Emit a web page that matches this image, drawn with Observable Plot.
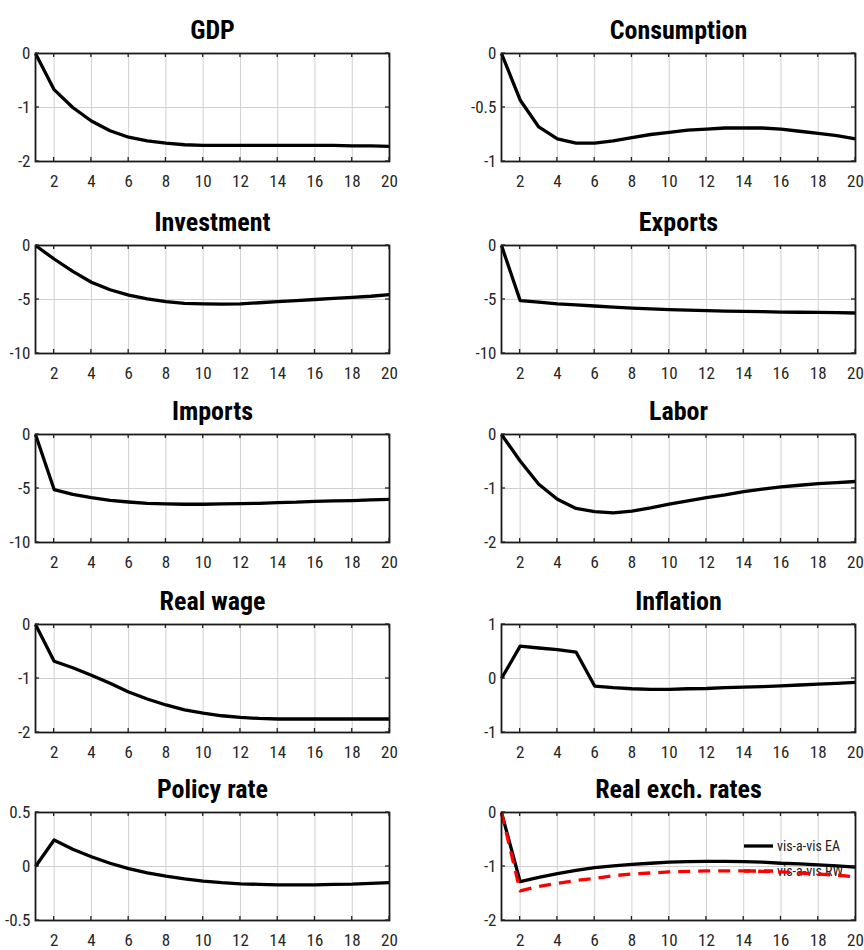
<!DOCTYPE html>
<html><head><meta charset="utf-8">
<script src="https://cdn.jsdelivr.net/npm/d3@7"></script>
<script src="https://cdn.jsdelivr.net/npm/@observablehq/plot@0.6"></script>
<style>
body{margin:0;background:#fff;}
#chart{position:relative;width:864px;height:950px;overflow:hidden;background:#fff;}
.panel{position:absolute;}
.panel svg{font-stretch:condensed;}
</style></head><body><div id="chart"></div>
<script>
// ---- data ----
const periods = [1,2,3,4,5,6,7,8,9,10,11,12,13,14,15,16,17,18,19,20];
const xTicks = [2,4,6,8,10,12,14,16,18,20];
const titles = ["GDP","Consumption","Investment","Exports","Imports","Labor","Real wage","Inflation","Policy rate","Real exch. rates"];

const gdp         = [0,-0.67,-1.0,-1.25,-1.43,-1.55,-1.62,-1.66,-1.69,-1.70,-1.70,-1.70,-1.70,-1.70,-1.70,-1.70,-1.70,-1.71,-1.71,-1.72];
const consumption = [0,-0.43,-0.68,-0.79,-0.83,-0.83,-0.81,-0.78,-0.75,-0.73,-0.71,-0.70,-0.69,-0.69,-0.69,-0.70,-0.72,-0.74,-0.76,-0.79];
const investment  = [0,-1.25,-2.4,-3.4,-4.1,-4.6,-4.95,-5.2,-5.35,-5.4,-5.43,-5.4,-5.3,-5.2,-5.1,-5.0,-4.9,-4.8,-4.7,-4.55];
const exportsS    = [0,-5.1,-5.25,-5.4,-5.5,-5.6,-5.7,-5.8,-5.87,-5.93,-5.98,-6.03,-6.07,-6.1,-6.13,-6.16,-6.18,-6.2,-6.22,-6.25];
const importsS    = [0,-5.1,-5.55,-5.85,-6.1,-6.25,-6.37,-6.43,-6.46,-6.46,-6.43,-6.4,-6.37,-6.3,-6.27,-6.2,-6.15,-6.12,-6.06,-6.0];
const labor       = [0,-0.49,-0.92,-1.2,-1.37,-1.43,-1.45,-1.42,-1.36,-1.29,-1.23,-1.17,-1.12,-1.06,-1.01,-0.97,-0.94,-0.91,-0.89,-0.87];
const realWage    = [0,-0.68,-0.80,-0.94,-1.09,-1.25,-1.38,-1.49,-1.58,-1.64,-1.69,-1.72,-1.74,-1.75,-1.75,-1.75,-1.75,-1.75,-1.75,-1.75];
const inflation   = [0,0.60,0.565,0.535,0.49,-0.14,-0.17,-0.19,-0.2,-0.2,-0.19,-0.185,-0.17,-0.16,-0.15,-0.135,-0.12,-0.105,-0.09,-0.07];
const policyRate  = [0,0.245,0.16,0.09,0.03,-0.02,-0.06,-0.09,-0.115,-0.135,-0.15,-0.16,-0.165,-0.17,-0.17,-0.17,-0.165,-0.163,-0.157,-0.15];
const rerEA       = [0,-1.28,-1.2,-1.13,-1.07,-1.02,-0.99,-0.96,-0.94,-0.92,-0.91,-0.905,-0.905,-0.91,-0.92,-0.94,-0.95,-0.97,-0.99,-1.01];
const rerRW       = [0,-1.45,-1.37,-1.31,-1.26,-1.22,-1.17,-1.14,-1.12,-1.1,-1.09,-1.08,-1.08,-1.08,-1.09,-1.1,-1.12,-1.14,-1.16,-1.19];
const legendLabels = ["vis-a-vis EA","vis-a-vis RW"];

const yTicksGdp = [-2,-1,0];
const yTicksCons = [-1,-0.5,0];
const yTicksTen = [-10,-5,0];
const yTicksTwo = [-2,-1,0];
const yTicksInfl = [-1,0,1];
const yTicksHalf = [-0.5,0,0.5];

// ---- panels ----
const panels = [
  {title: titles[0], series:[gdp], yTicks: yTicksGdp},
  {title: titles[1], series:[consumption], yTicks: yTicksCons},
  {title: titles[2], series:[investment], yTicks: yTicksTen},
  {title: titles[3], series:[exportsS], yTicks: yTicksTen},
  {title: titles[4], series:[importsS], yTicks: yTicksTen},
  {title: titles[5], series:[labor], yTicks: yTicksTwo},
  {title: titles[6], series:[realWage], yTicks: yTicksTwo},
  {title: titles[7], series:[inflation], yTicks: yTicksInfl},
  {title: titles[8], series:[policyRate], yTicks: yTicksHalf},
  {title: titles[9], series:[rerEA, rerRW], yTicks: yTicksTwo, legend: true}
];

const FONT = "'Roboto Condensed','DejaVu Sans Condensed','Liberation Sans Narrow',sans-serif";
const plotTops = [53, 245, 434, 624, 812];
const MT = 53, PH = 108, MB = 32;

function inwardTicks(xt, yt) {
  return (index, scales, values, dims) => {
    const g = d3.create("svg:g").attr("stroke", "#222").attr("stroke-width", 1.3);
    const top = dims.marginTop, bottom = dims.height - dims.marginBottom;
    const left = dims.marginLeft, right = dims.width - dims.marginRight;
    for (const t of xt) {
      const x = scales.x(t);
      g.append("line").attr("x1", x).attr("x2", x).attr("y1", bottom).attr("y2", bottom - 4);
      g.append("line").attr("x1", x).attr("x2", x).attr("y1", top).attr("y2", top + 4);
    }
    for (const t of yt) {
      const y = scales.y(t);
      g.append("line").attr("x1", left).attr("x2", left + 4).attr("y1", y).attr("y2", y);
      g.append("line").attr("x1", right).attr("x2", right - 4).attr("y1", y).attr("y2", y);
    }
    return g.node();
  };
}

function legendMark(labels) {
  return (index, scales, values, dims) => {
    const g = d3.create("svg:g");
    const top = dims.marginTop, right = dims.width - dims.marginRight;
    const rows = [{dy: 34, stroke: "#000", dash: null}, {dy: 59, stroke: "#ff0000", dash: "12,8"}];
    rows.forEach((r, i) => {
      const ln = g.append("line").attr("x1", right - 111).attr("x2", right - 82)
        .attr("y1", top + r.dy).attr("y2", top + r.dy)
        .attr("stroke", r.stroke).attr("stroke-width", 3.3);
      if (r.dash) ln.attr("stroke-dasharray", r.dash);
      g.append("text").attr("x", right - 78).attr("y", top + r.dy).attr("dy", "0.35em")
        .attr("text-anchor", "start")
        .attr("font-size", 14).attr("fill", "#222").attr("font-family", FONT)
        .style("font-stretch", "condensed").text(labels[i]);
    });
    return g.node();
  };
}

const chart = document.getElementById("chart");
panels.forEach((p, i) => {
  const col = i % 2, row = Math.floor(i / 2);
  const marginLeft = col === 0 ? 35 : 69;
  const marginRight = col === 0 ? 43 : 9;
  const yDomain = [p.yTicks[0], p.yTicks[p.yTicks.length - 1]];
  const styles = [
    {stroke: "#000", dash: null},
    {stroke: "#ff0000", dash: "12,8"}
  ];
  const lines = p.series.map((s, k) => Plot.line(periods, {
    x: d => d, y: (d, j) => s[j],
    stroke: styles[k].stroke, strokeWidth: 3.3, strokeDasharray: styles[k].dash,
    strokeLinejoin: "round", strokeLinecap: "butt"
  }));
  const marks = [
    Plot.gridX(xTicks, {stroke: "#d0d0d0", strokeOpacity: 1, strokeWidth: 1}),
    Plot.gridY(p.yTicks, {stroke: "#d0d0d0", strokeOpacity: 1, strokeWidth: 1}),
    ...(p.legend ? [legendMark(legendLabels)] : []),
    ...lines,
    Plot.frame({stroke: "#1a1a1a", strokeWidth: 1.8}),
    inwardTicks(xTicks, p.yTicks),
    Plot.axisX(xTicks, {anchor: "bottom", tickSize: 0, tickPadding: 13, tickFormat: d => String(d), fill: "#262626"}),
    Plot.axisY(p.yTicks, {anchor: "left", tickSize: 0, tickPadding: 5, tickFormat: d => String(d), fill: "#262626"}),
    Plot.text([p.title], {text: d => d, frameAnchor: "top", lineAnchor: "middle", dy: -23, fontSize: 26, fontWeight: "bold", fill: "#000"})
  ];
  const svg = Plot.plot({
    width: 432, height: MT + PH + MB,
    marginTop: MT, marginBottom: MB, marginLeft, marginRight,
    x: {domain: [1, 20], axis: null},
    y: {domain: yDomain, axis: null},
    style: {fontFamily: FONT, fontSize: "17px", background: "transparent", overflow: "visible"},
    marks
  });
  const div = document.createElement("div");
  div.className = "panel";
  div.style.left = (col * 432) + "px";
  div.style.top = (plotTops[row] - MT) + "px";
  div.appendChild(svg);
  chart.appendChild(div);
});
</script></body></html>
